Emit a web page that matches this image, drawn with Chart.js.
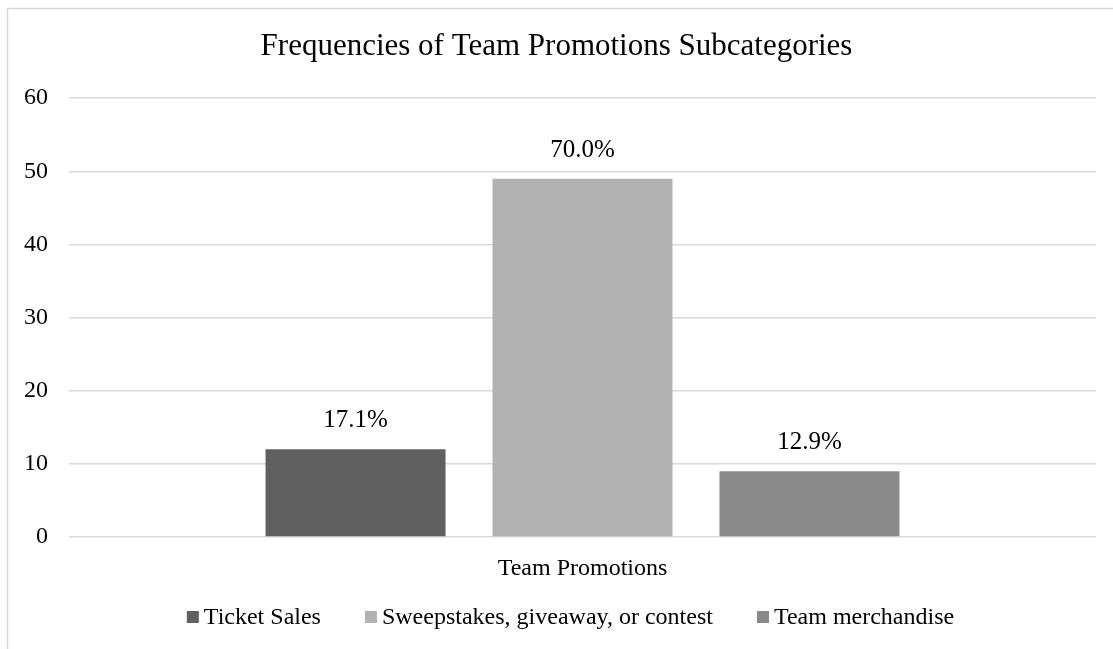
<!DOCTYPE html>
<html>
<head>
<meta charset="utf-8">
<script src="https://cdn.jsdelivr.net/npm/chart.js@4/dist/chart.umd.min.js"></script>
<style>
  html, body { margin: 0; padding: 0; background: #ffffff; }
  #wrap { position: relative; width: 1113px; height: 649px; }
</style>
</head>
<body>
<div id="wrap"><canvas id="chart" width="1113" height="649"></canvas></div>
<script>
// Chart data
const chartTitle = 'Frequencies of Team Promotions Subcategories';
const categories = ['Team Promotions'];
const seriesNames = ['Ticket Sales', 'Sweepstakes, giveaway, or contest', 'Team merchandise'];
const ticketSales = [12];
const sweepstakes = [49];
const merchandise = [9];
const yTicks = [0, 10, 20, 30, 40, 50, 60];

// Styling
const seriesColors = ['#606060', '#b2b2b2', '#8a8a8a'];
const FONT = '"Liberation Serif", "Times New Roman", serif';
const gridColor = '#d9d9d9';

const seriesValues = [ticketSales, sweepstakes, merchandise];
const total = seriesValues.reduce((s, arr) => s + arr[0], 0);

// Light frame around the chart
const framePlugin = {
  id: 'frame',
  beforeDraw(chart) {
    const ctx = chart.ctx;
    ctx.save();
    ctx.strokeStyle = '#d9d9d9';
    ctx.lineWidth = 1.5;
    ctx.strokeRect(7.5, 8.5, chart.width + 20, chart.height + 20);
    ctx.restore();
  }
};

// Percentage labels above each bar, computed from the bar values
const percentLabels = {
  id: 'percentLabels',
  afterDatasetsDraw(chart) {
    const ctx = chart.ctx;
    ctx.save();
    ctx.font = '25px ' + FONT;
    ctx.fillStyle = '#000000';
    ctx.textAlign = 'center';
    ctx.textBaseline = 'bottom';
    chart.data.datasets.forEach((ds, di) => {
      const meta = chart.getDatasetMeta(di);
      meta.data.forEach((bar, i) => {
        const pct = (ds.data[i] / total * 100).toFixed(1) + '%';
        ctx.fillText(pct, bar.x, bar.y - 16);
      });
    });
    ctx.restore();
  }
};

// Legend row drawn under the axis
const bottomLegend = {
  id: 'bottomLegend',
  afterDraw(chart) {
    const ctx = chart.ctx;
    const box = 12, textGap = 5, itemGap = 44;
    ctx.save();
    ctx.font = '24px ' + FONT;
    ctx.textBaseline = 'middle';
    ctx.textAlign = 'left';
    const items = chart.data.datasets.map(ds => ({
      label: ds.label, color: ds.backgroundColor,
      w: box + textGap + ctx.measureText(ds.label).width
    }));
    const totalW = items.reduce((s, it) => s + it.w, 0) + itemGap * (items.length - 1);
    const ca = chart.chartArea;
    let x = (ca.left + ca.right) / 2 - totalW / 2 - 12;
    const y = 617;
    items.forEach(it => {
      ctx.fillStyle = it.color;
      ctx.fillRect(x, y - box / 2, box, box);
      ctx.fillStyle = '#000000';
      ctx.fillText(it.label, x + box + textGap, y + 1);
      x += it.w + itemGap;
    });
    ctx.restore();
  }
};

new Chart(document.getElementById('chart'), {
  type: 'bar',
  data: {
    labels: categories,
    datasets: seriesNames.map((name, i) => ({
      label: name,
      data: seriesValues[i],
      backgroundColor: seriesColors[i],
      borderWidth: 0,
      categoryPercentage: 0.663,
      barPercentage: 0.793
    }))
  },
  options: {
    responsive: false,
    animation: false,
    devicePixelRatio: 1,
    layout: { padding: { left: 17, right: 17, top: 0, bottom: 62 } },
    plugins: {
      legend: { display: false },
      tooltip: { enabled: false },
      title: {
        display: true,
        text: chartTitle,
        color: '#000000',
        font: { family: FONT, size: 31, weight: 'normal', lineHeight: 1.2 },
        padding: { top: 28, bottom: 33 }
      }
    },
    scales: {
      x: {
        grid: { display: false },
        border: { display: false },
        ticks: { color: '#000000', font: { family: FONT, size: 24 }, padding: 9 },
        afterFit(scale) { scale.height = 50; }
      },
      y: {
        min: yTicks[0],
        max: yTicks[yTicks.length - 1],
        afterBuildTicks(scale) { scale.ticks = yTicks.map(v => ({ value: v })); },
        grid: { color: gridColor, lineWidth: 1.5, drawTicks: false },
        border: { display: false },
        ticks: { color: '#000000', font: { family: FONT, size: 24 }, padding: 21 },
        afterFit(scale) { scale.width = 52; }
      }
    }
  },
  plugins: [framePlugin, percentLabels, bottomLegend]
});
</script>
</body>
</html>
